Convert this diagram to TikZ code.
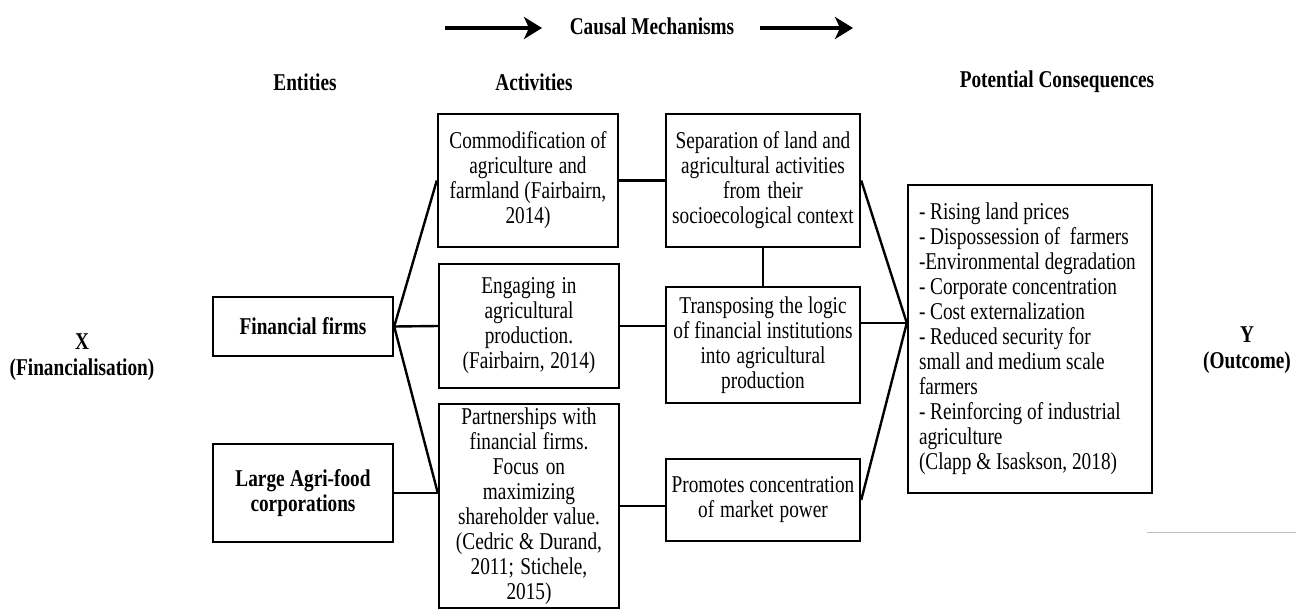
\documentclass[tikz,border=0pt]{standalone}
\usepackage{fontspec}
\setmainfont{Liberation Serif}[FakeStretch=0.8]
\usetikzlibrary{arrows.meta}

\begin{document}
\begin{tikzpicture}[x=1pt, y=-1pt,
  every node/.style={font=\fontsize{24.1}{25}\selectfont,
    execute at begin node={\spaceskip=4.8pt plus 2pt minus 1pt\relax}},
  box/.style={rectangle, draw, line width=2.4pt, text width=#1, align=center,
    inner xsep=5pt, inner ysep=2pt},
  entity/.style={box=170pt, font=\fontsize{24.1}{25}\selectfont\bfseries},
  head/.style={font=\fontsize{24.1}{26}\selectfont\bfseries, align=center},
  link/.style={line width=2.4pt},
  arr/.style={-{Stealth[length=18pt, width=22pt, inset=5pt]}, line width=3.5pt},
]
  \useasboundingbox (0,0) rectangle (1302,616);

  % headings
  \node[head] (cm) at (652,26) {Causal Mechanisms};
  \coordinate (la) at (445,28);
  \coordinate (lb) at (542,28);
  \coordinate (ra) at (760,28);
  \coordinate (rb) at (853,28);
  \draw[arr] (la) -- (lb);
  \draw[arr] (ra) -- (rb);

  \node[head] (hent) at (305,82) {Entities};
  \node[head] (hact) at (534,82) {Activities};
  \node[head] (hcon) at (1057,82) {Potential Consequences};

  \node[head] (xlab) at (82,357) {X\\(Financialisation)};
  \node[head] (ylab) at (1247,350) {Y\\(Outcome)};

  % entities
  \node[entity, minimum height=59pt] (ff) at (303,326.5) {Financial firms};
  \node[entity, minimum height=98pt] (la) at (303,493) {Large Agri-food\\corporations};

  % activities
  \node[box=170pt, minimum height=133pt] (a1) at (528,180.5)
    {Commodification of\\agriculture and\\farmland (Fairbairn,\\2014)};
  \node[box=170pt, minimum height=124pt] (a2) at (529,326)
    {Engaging in\\agricultural\\production.\\(Fairbairn, 2014)};
  \node[box=170pt, minimum height=204pt] (a3) at (529,506)
    {Partnerships with\\financial firms.\\Focus on\\maximizing\\shareholder value.\\(Cedric \& Durand,\\2011; Stichele,\\2015)};

  % mechanisms
  \node[box=186pt, inner xsep=4pt, minimum height=133pt] (m1) at (763,180.5)
    {Separation of land and\\agricultural activities\\from their\\socioecological context};
  \node[box=186pt, inner xsep=4pt, minimum height=116pt] (m2) at (763,345)
    {Transposing the logic\\of financial institutions\\into agricultural\\production};
  \node[box=186pt, inner xsep=4pt, minimum height=82pt] (m3) at (763,500)
    {Promotes concentration\\of market power};

  % consequences
  \node[box=222pt, align=left, inner xsep=11pt, minimum height=308pt] (cons) at (1030,339)
    {\hyphenpenalty=10000
     - Rising land prices\\- Dispossession of \ farmers\\-Environmental degradation\\- Corporate concentration\\- Cost externalization\\- Reduced security for\\small and medium scale\\farmers\\- Reinforcing of industrial\\agriculture\\(Clapp \& Isaskson, 2018)};

  % connectors
  \coordinate (a3in) at (a3.west |- la.east);
  \coordinate (cin) at ([yshift=16pt]cons.west);
  \draw[link] (ff.east) -- (a1.west);
  \draw[link] (ff.east) -- (a2.west);
  \draw[link] (ff.east) -- (a3in);
  \draw[link] (la.east) -- (a3in);
  \draw[link] (a1.east) -- (m1.west);
  \draw[link] (a2.east) -- (a2.east -| m2.west);
  \draw[link] (a3.east) -- (a3.east -| m3.west);
  \draw[link] (m1.south) -- (m2.north);
  \draw[link] (m1.east) -- (cin);
  \draw[link] (m2.east |- cin) -- (cin);
  \draw[link] (m3.east) -- (cin);

  \draw[gray!50, line width=1pt] (1147,532) -- (1296,532);
\end{tikzpicture}
\end{document}
